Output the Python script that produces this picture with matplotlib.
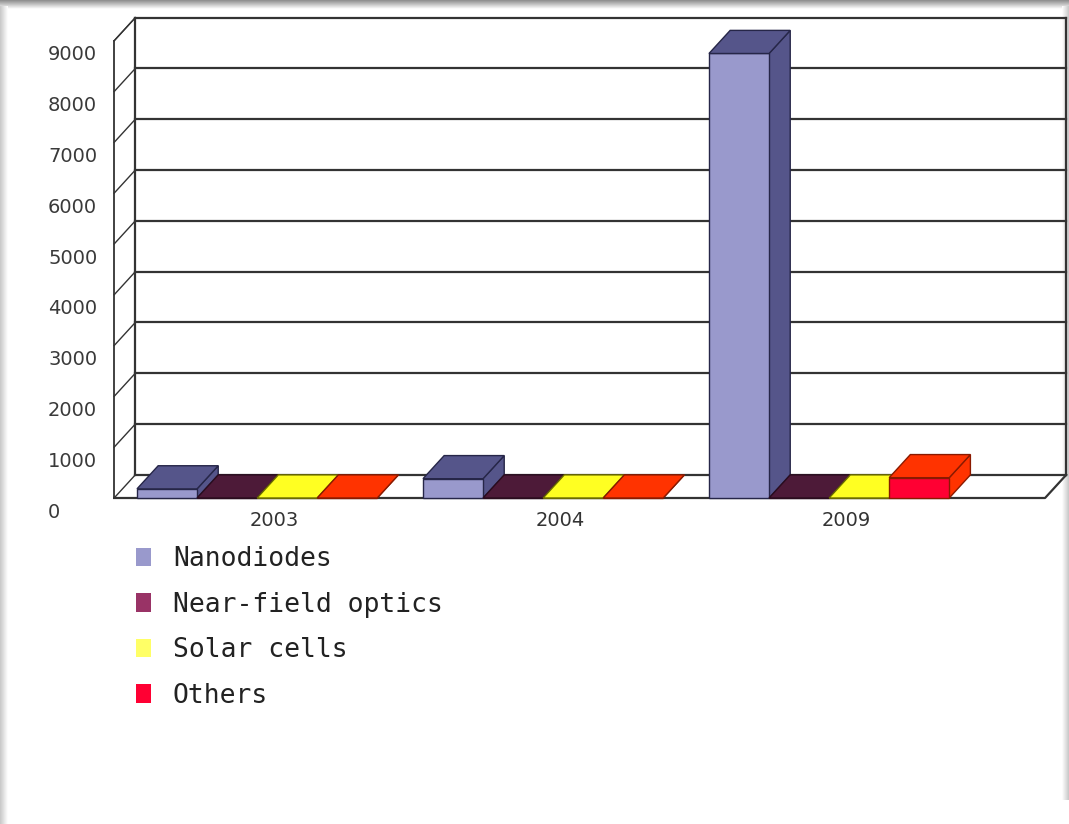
import matplotlib
matplotlib.use("Agg")
import numpy as np
import matplotlib.pyplot as plt
from matplotlib.patches import Polygon, Patch
from matplotlib.transforms import offset_copy

# ---- data ----
years = ["2003", "2004", "2009"]
series = ["Nanodiodes", "Near-field optics", "Solar cells", "Others"]
nanodiodes = [180, 380, 8750]
near_field = [0, 0, 0]
solar_cells = [0, 0, 0]
others = [0, 0, 400]
yticks = list(range(0, 10000, 1000))

values = [nanodiodes, near_field, solar_cells, others]

# face colours for the pseudo 3d bars
front_colors = ["#9999cc", "#993366", "#ffff66", "#ff0033"]
top_colors = ["#55558a", "#4d1a38", "#ffff22", "#ff3300"]
side_colors = ["#55558a", "#4d1a38", "#e6e600", "#ff3300"]
edge_colors = ["#262648", "#2a0c1e", "#6b6b00", "#8a1a00"]
legend_colors = ["#9999cc", "#993366", "#ffff66", "#ff0033"]

# ---- geometry (category units / value units) ----
BAR_W = 0.21
DX = 0.074        # depth offset along x
DY = 455          # depth offset along y
X0 = -0.08        # front edge of the left wall
X_END = 3.175     # front right corner of the floor
YMAX = 9000

W, H = 1069, 824
fig = plt.figure(figsize=(W / 100, H / 100), dpi=100)
fig.patch.set_facecolor("white")

# soft grey frame around the picture
bg = fig.add_axes([0, 0, 1, 1], zorder=0)
bg.set_xlim(0, W)
bg.set_ylim(H, 0)
bg.axis("off")
top_grad = np.linspace(0.55, 1.0, 32).reshape(-1, 1)
bg.imshow(top_grad, cmap="gray", vmin=0, vmax=1, extent=(0, W, 9, 0), aspect="auto")
left_grad = np.linspace(0.78, 1.0, 32).reshape(1, -1)
bg.imshow(left_grad, cmap="gray", vmin=0, vmax=1, extent=(0, 8, H, 6), aspect="auto")
bg.imshow(left_grad[:, ::-1], cmap="gray", vmin=0, vmax=1, extent=(W - 7, W, 800, 6), aspect="auto")

ax = fig.add_axes([0, 0, 1, 1], zorder=1)
ax.patch.set_alpha(0)
ax.set_xlim(-137 / 286, (W - 137) / 286)
ax.set_ylim(-(H - 498) / 0.0508, 498 / 0.0508)
ax.axis("off")

grid_c = "#333333"
# back wall with gridlines
xb0, xb1 = X0 + DX, X_END + DX
for v in yticks:
    ax.plot([xb0, xb1], [v + DY, v + DY], color=grid_c, lw=1.6, zorder=1)
    ax.plot([X0, xb0], [v, v + DY], color=grid_c, lw=1.0, zorder=1)
ax.plot([X0, xb0], [YMAX, YMAX + DY], color=grid_c, lw=1.0, zorder=1)
ax.plot([xb0, xb0], [DY, YMAX + DY], color=grid_c, lw=1.6, zorder=1)
ax.plot([xb1, xb1], [DY, YMAX + DY], color=grid_c, lw=1.6, zorder=1)
ax.plot([X0, X0], [0, YMAX], color=grid_c, lw=1.3, zorder=1)
# floor
ax.plot([X0, X_END, X_END + DX], [0, 0, DY], color=grid_c, lw=1.6, zorder=1)


def bar3d(x, h, j):
    front = [(x, 0), (x + BAR_W, 0), (x + BAR_W, h), (x, h)]
    top = [(x, h), (x + BAR_W, h), (x + BAR_W + DX, h + DY), (x + DX, h + DY)]
    side = [(x + BAR_W, 0), (x + BAR_W + DX, DY), (x + BAR_W + DX, h + DY), (x + BAR_W, h)]
    for pts, fc in ((side, side_colors[j]), (front, front_colors[j]), (top, top_colors[j])):
        ax.add_patch(Polygon(pts, closed=True, facecolor=fc, edgecolor=edge_colors[j],
                             lw=1.0, zorder=3))


for i in range(len(years)):
    for j in range(len(series)):
        bar3d(i + j * BAR_W, values[j][i], j)

# value labels on the left
tick_tr = offset_copy(ax.transData, fig=fig, x=0, y=-14, units="dots")
for v in yticks:
    ax.text(-0.311, v, str(v), transform=tick_tr, ha="left", va="center",
            fontsize=14, color="#3a3a3a", family="DejaVu Sans")

# category labels under the floor
cat_tr = offset_copy(ax.transData, fig=fig, x=0, y=-22, units="dots")
for i, yr in enumerate(years):
    ax.text(i + 2 * BAR_W + 0.06, 0, yr, transform=cat_tr, ha="center", va="center",
            fontsize=14, color="#333333", family="DejaVu Sans")

handles = [Patch(facecolor=c, edgecolor="none") for c in legend_colors]
leg = ax.legend(handles, series, loc="upper left",
                bbox_to_anchor=(136 / W, 1 - 546 / H), bbox_transform=fig.transFigure,
                frameon=False, prop={"family": "DejaVu Sans Mono", "size": 19},
                handlelength=0.55, handleheight=0.7, handletextpad=0.85,
                labelspacing=0.74, borderpad=0, borderaxespad=0)
for t in leg.get_texts():
    t.set_color("#222222")

plt.savefig("out.png", dpi=100)
